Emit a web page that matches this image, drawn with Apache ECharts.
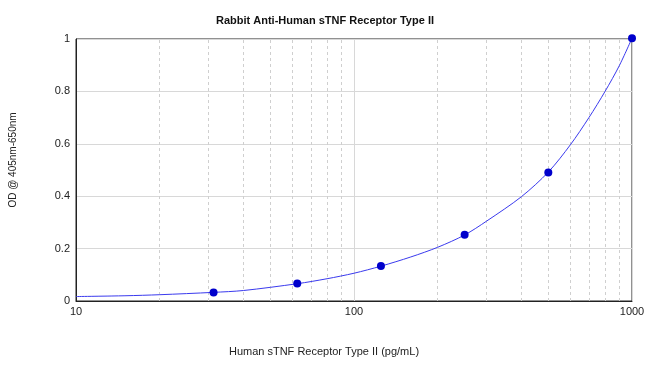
<!DOCTYPE html>
<html>
<head>
<meta charset="utf-8">
<script src="https://cdn.jsdelivr.net/npm/echarts@6/dist/echarts.min.js"></script>
<style>
html,body{margin:0;padding:0;background:#fff;}
#c{width:650px;height:366px;}
</style>
</head>
<body>
<div id="c"></div>
<script>
// Standards (measured points)
var concentrations = [31.25, 62.5, 125, 250, 500, 1000];
var odValues = [0.032, 0.067, 0.134, 0.253, 0.490, 1.003];
// Fitted curve
var curveX = [10, 15, 20, 31.25, 40, 62.5, 80, 100, 125, 160, 200, 250, 300, 400, 500, 600, 700, 800, 900, 1000];
var curveY = [0.017, 0.020, 0.024, 0.033, 0.040, 0.066, 0.085, 0.106, 0.133, 0.168, 0.205, 0.252, 0.305, 0.398, 0.492, 0.596, 0.700, 0.800, 0.898, 1.003];
// Minor vertical gridlines of the log axis
var minorTicks = [20, 30, 40, 50, 60, 70, 80, 90, 200, 300, 400, 500, 600, 700, 800, 900];

var chart = echarts.init(document.getElementById('c'), null, {renderer: 'canvas'});
var font = 'Arial, "Liberation Sans", sans-serif';
chart.setOption({
  animation: false,
  backgroundColor: '#fff',
  title: {
    text: 'Rabbit Anti-Human sTNF Receptor Type II',
    left: 'center',
    top: 10,
    textStyle: {fontFamily: font, fontSize: 11, fontWeight: 'bold', color: '#111'}
  },
  grid: {left: 76, right: 18, top: 39, bottom: 65, show: true, borderColor: '#222', borderWidth: 1, backgroundColor: 'transparent'},
  xAxis: {
    type: 'log', logBase: 10, min: 10, max: 1000,
    name: 'Human sTNF Receptor Type II (pg/mL)',
    nameLocation: 'middle', nameGap: 45,
    nameTextStyle: {fontFamily: font, fontSize: 11, color: '#222', padding: [0, 60, 0, 0]},
    axisLine: {show: true, lineStyle: {color: '#222', width: 1}},
    axisTick: {show: false},
    axisLabel: {fontFamily: font, fontSize: 11, color: '#222', margin: 5,
      formatter: function (v) { return String(Math.round(v)); }},
    splitLine: {show: true, lineStyle: {color: '#d8d8d8', width: 1, type: 'solid'}}
  },
  yAxis: {
    type: 'value', min: 0, max: 1, interval: 0.2,
    name: 'OD @ 405nm-650nm',
    nameLocation: 'middle', nameGap: 58,
    nameTextStyle: {fontFamily: font, fontSize: 10, color: '#222', padding: [0, 0, 0, 20]},
    axisLine: {show: true, lineStyle: {color: '#222', width: 1}},
    axisTick: {show: false},
    axisLabel: {fontFamily: font, fontSize: 11, color: '#222', margin: 6},
    splitLine: {show: true, lineStyle: {color: '#d8d8d8', width: 1}}
  },
  series: [
    {
      type: 'line',
      data: curveX.map(function (x, i) { return [x, curveY[i]]; }),
      smooth: 0.3,
      clip: false,
      showSymbol: false,
      symbol: 'none',
      lineStyle: {color: '#3a3aee', width: 1},
      z: 3,
      markLine: {
        silent: true,
        symbol: 'none',
        label: {show: false},
        lineStyle: {color: '#cfcfcf', type: [3, 3], width: 1},
        data: minorTicks.map(function (t) { return {xAxis: t}; }),
        z: 1
      }
    },
    {
      type: 'scatter',
      data: concentrations.map(function (x, i) { return [x, odValues[i]]; }),
      symbol: 'circle',
      symbolSize: 8,
      clip: false,
      itemStyle: {color: '#0000cc', opacity: 1},
      z: 4
    }
  ]
});
</script>
</body>
</html>
